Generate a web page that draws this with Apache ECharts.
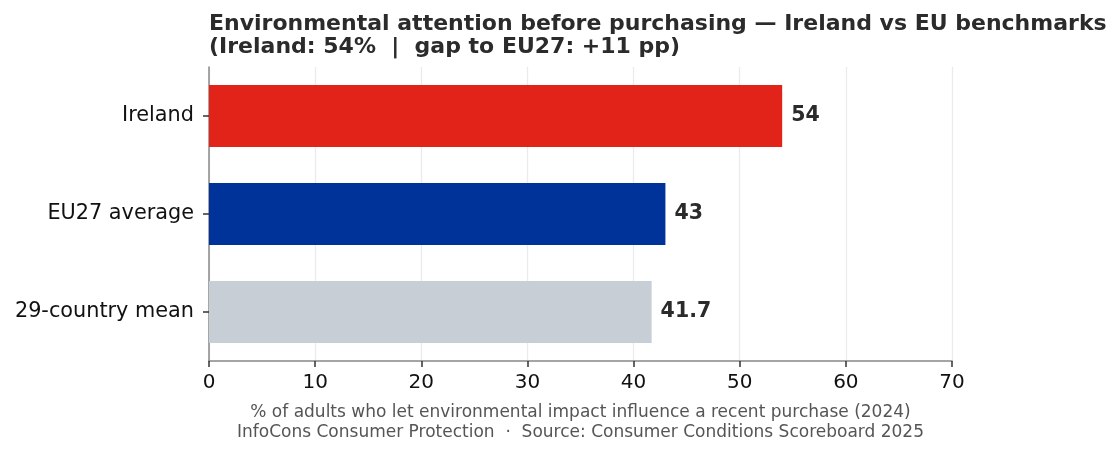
<!DOCTYPE html>
<html>
<head>
<meta charset="utf-8">
<script src="https://cdn.jsdelivr.net/npm/echarts@6/dist/echarts.min.js"></script>
<style>html,body{margin:0;padding:0;background:#fff;}#c{width:1119px;height:456px;}</style>
</head>
<body>
<div id="c"></div>
<script>
const categories = ['Ireland', 'EU27 average', '29-country mean'];
const values = [54, 43, 41.7];
const barColors = ['#e2231a', '#003399', '#c8ced6'];
const xTicks = [0, 10, 20, 30, 40, 50, 60, 70];
const titleLines = ['Environmental attention before purchasing \u2014 Ireland vs EU benchmarks', '(Ireland: 54%  |  gap to EU27: +11 pp)'];
const footerLines = ['% of adults who let environmental impact influence a recent purchase (2024)', 'InfoCons Consumer Protection  \u00b7  Source: Consumer Conditions Scoreboard 2025'];

const chart = echarts.init(document.getElementById('c'), null, {renderer: 'canvas'});
const font = 'DejaVu Sans';
chart.setOption({
  animation: false,
  title: {
    text: titleLines.join('\n'),
    left: 209, top: 13,
    padding: 0,
    textStyle: {fontFamily: font, fontSize: 22, fontWeight: 'bold', color: '#2b2b2b', lineHeight: 23}
  },
  grid: {left: 209, right: 167, top: 67, height: 294, containLabel: false},
  xAxis: {
    type: 'value', min: xTicks[0], max: xTicks[xTicks.length - 1], interval: 10,
    axisLine: {show: true, lineStyle: {color: '#888', width: 1.5}},
    axisTick: {show: true, length: 6, lineStyle: {color: '#333', width: 1.5}},
    axisLabel: {fontFamily: font, fontSize: 20, color: '#111', margin: 12},
    splitLine: {show: true, lineStyle: {color: '#ebebeb', width: 1.3}},
    name: footerLines.join('\n'),
    nameLocation: 'middle', nameGap: 42,
    nameTextStyle: {fontFamily: font, fontSize: 17, color: '#555', lineHeight: 20}
  },
  yAxis: {
    type: 'category', data: categories, inverse: true,
    axisLine: {show: true, lineStyle: {color: '#888', width: 1.5}},
    axisTick: {show: true, length: 6, alignWithLabel: true, lineStyle: {color: '#333', width: 1.5}},
    axisLabel: {fontFamily: font, fontSize: 20.8, color: '#111', margin: 15},
    splitLine: {show: false}
  },
  series: [{
    type: 'bar',
    data: values.map((v, i) => ({value: v, itemStyle: {color: barColors[i]}})),
    barWidth: 62,
    label: {show: true, position: 'right', distance: 9, fontFamily: font, fontSize: 20.5, fontWeight: 'bold', color: '#2b2b2b',
      formatter: p => String(p.value)}
  }]
});
</script>
</body>
</html>
